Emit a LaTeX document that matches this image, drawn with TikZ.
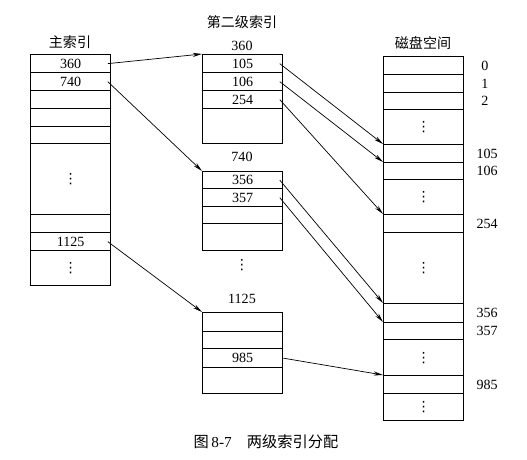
\documentclass[tikz,border=0pt]{standalone}
\usepackage{fontspec}
\setmainfont{Liberation Serif}
\newfontfamily\cjk{Noto Sans CJK SC}
\newfontfamily\sym{DejaVu Sans}
\usetikzlibrary{arrows.meta}

\newcommand{\vdot}{{\sym ⋮}}

\begin{document}
\begin{tikzpicture}[x=0.03cm, y=-0.03cm, font=\fontsize{12}{14}\selectfont,
  cell/.style={draw, line width=1.1pt, anchor=north west, minimum width=2.4cm, inner sep=0pt},
  link/.style={line width=0.6pt, ->, >={Stealth[length=8pt,width=3.5pt]}}]

  \useasboundingbox (0,0) rectangle (527,460);

  % Titles
  \draw (70,42)   node(tMain) {\cjk 主索引};
  \draw (242,22)  node(tSec)  {\cjk 第二级索引};
  \draw (423,43)  node(tDisk) {\cjk 磁盘空间};
  \draw (242,46)  node(tA)    {360};
  \draw (242,157) node(tB)    {740};
  \draw (242,299) node(tC)    {1125};
  \draw (242,265) node(gap)   {\vdot};

  % Main index
  \draw (30,54)  node(M1) [cell, minimum height=0.54cm] {360};
  \draw (30,72)  node(M2) [cell, minimum height=0.54cm] {740};
  \draw (30,90)  node(M3) [cell, minimum height=0.54cm] {};
  \draw (30,108) node(M4) [cell, minimum height=0.54cm] {};
  \draw (30,126) node(M5) [cell, minimum height=0.51cm] {};
  \draw (30,143) node(M6) [cell, minimum height=2.13cm] {\vdot};
  \draw (30,214) node(M7) [cell, minimum height=0.54cm] {};
  \draw (30,232) node(M8) [cell, minimum height=0.54cm] {1125};
  \draw (30,250) node(M9) [cell, minimum height=1.05cm] {\vdot};

  % Second level
  \draw (202,54)  node(A1) [cell, minimum height=0.54cm] {105};
  \draw (202,72)  node(A2) [cell, minimum height=0.54cm] {106};
  \draw (202,90)  node(A3) [cell, minimum height=0.54cm] {254};
  \draw (202,108) node(A4) [cell, minimum height=1.05cm] {};

  \draw (202,171) node(B1) [cell, minimum height=0.51cm] {356};
  \draw (202,188) node(B2) [cell, minimum height=0.54cm] {357};
  \draw (202,206) node(B3) [cell, minimum height=0.51cm] {};
  \draw (202,223) node(B4) [cell, minimum height=0.81cm] {};

  \draw (202,312) node(C1) [cell, minimum height=0.57cm] {};
  \draw (202,331) node(C2) [cell, minimum height=0.51cm] {};
  \draw (202,348) node(C3) [cell, minimum height=0.57cm] {985};
  \draw (202,367) node(C4) [cell, minimum height=0.78cm] {};

  % Disk
  \draw (383,56)  node(D1)  [cell, minimum height=0.54cm] {};
  \draw (383,74)  node(D2)  [cell, minimum height=0.54cm] {};
  \draw (383,92)  node(D3)  [cell, minimum height=0.51cm] {};
  \draw (383,109) node(D4)  [cell, minimum height=1.05cm] {\vdot};
  \draw (383,144) node(D5)  [cell, minimum height=0.54cm] {};
  \draw (383,162) node(D6)  [cell, minimum height=0.51cm] {};
  \draw (383,179) node(D7)  [cell, minimum height=1.05cm] {\vdot};
  \draw (383,214) node(D8)  [cell, minimum height=0.54cm] {};
  \draw (383,232) node(D9)  [cell, minimum height=2.13cm] {\vdot};
  \draw (383,303) node(D10) [cell, minimum height=0.57cm] {};
  \draw (383,322) node(D11) [cell, minimum height=0.51cm] {};
  \draw (383,339) node(D12) [cell, minimum height=1.08cm] {\vdot};
  \draw (383,375) node(D13) [cell, minimum height=0.54cm] {};
  \draw (383,393) node(D14) [cell, minimum height=0.81cm] {\vdot};

  % Block numbers
  \node (n0)   [anchor=west] at ([xshift=11pt]D1.east)  {0};
  \node (n1)   [anchor=west] at ([xshift=11pt]D2.east)  {1};
  \node (n2)   [anchor=west] at ([xshift=11pt]D3.east)  {2};
  \node (n105) [anchor=west] at ([xshift=7pt]D5.east)   {105};
  \node (n106) [anchor=west] at ([xshift=7pt]D6.east)   {106};
  \node (n254) [anchor=west] at ([xshift=7pt]D8.east)   {254};
  \node (n356) [anchor=west] at ([xshift=7pt]D10.east)  {356};
  \node (n357) [anchor=west] at ([xshift=7pt]D11.east)  {357};
  \node (n985) [anchor=west] at ([xshift=7pt]D13.east)  {985};

  % Edges
  \draw[link] ([xshift=-3pt]M1.east) -- (A1.north west);
  \draw[link] ([xshift=-3pt]M2.east) -- (B1.north west);
  \draw[link] ([xshift=-3pt]M8.east) -- (C1.north west);

  \draw[link] ([xshift=-3pt]A1.east) -- (D5.north west);
  \draw[link] ([xshift=-3pt]A2.east) -- (D6.north west);
  \draw[link] ([xshift=-3pt]A3.east) -- (D8.north west);
  \draw[link] ([xshift=-3pt]B1.east) -- (D10.north west);
  \draw[link] ([xshift=-3pt]B2.east) -- (D11.north west);
  \draw[link] (C3.east) -- (D13.north west);

  % Caption
  \draw (266,442) node(cap) {\fontsize{13}{15}\selectfont\cjk 图\,\rmfamily 8-7\quad\cjk 两级索引分配};
\end{tikzpicture}
\end{document}
